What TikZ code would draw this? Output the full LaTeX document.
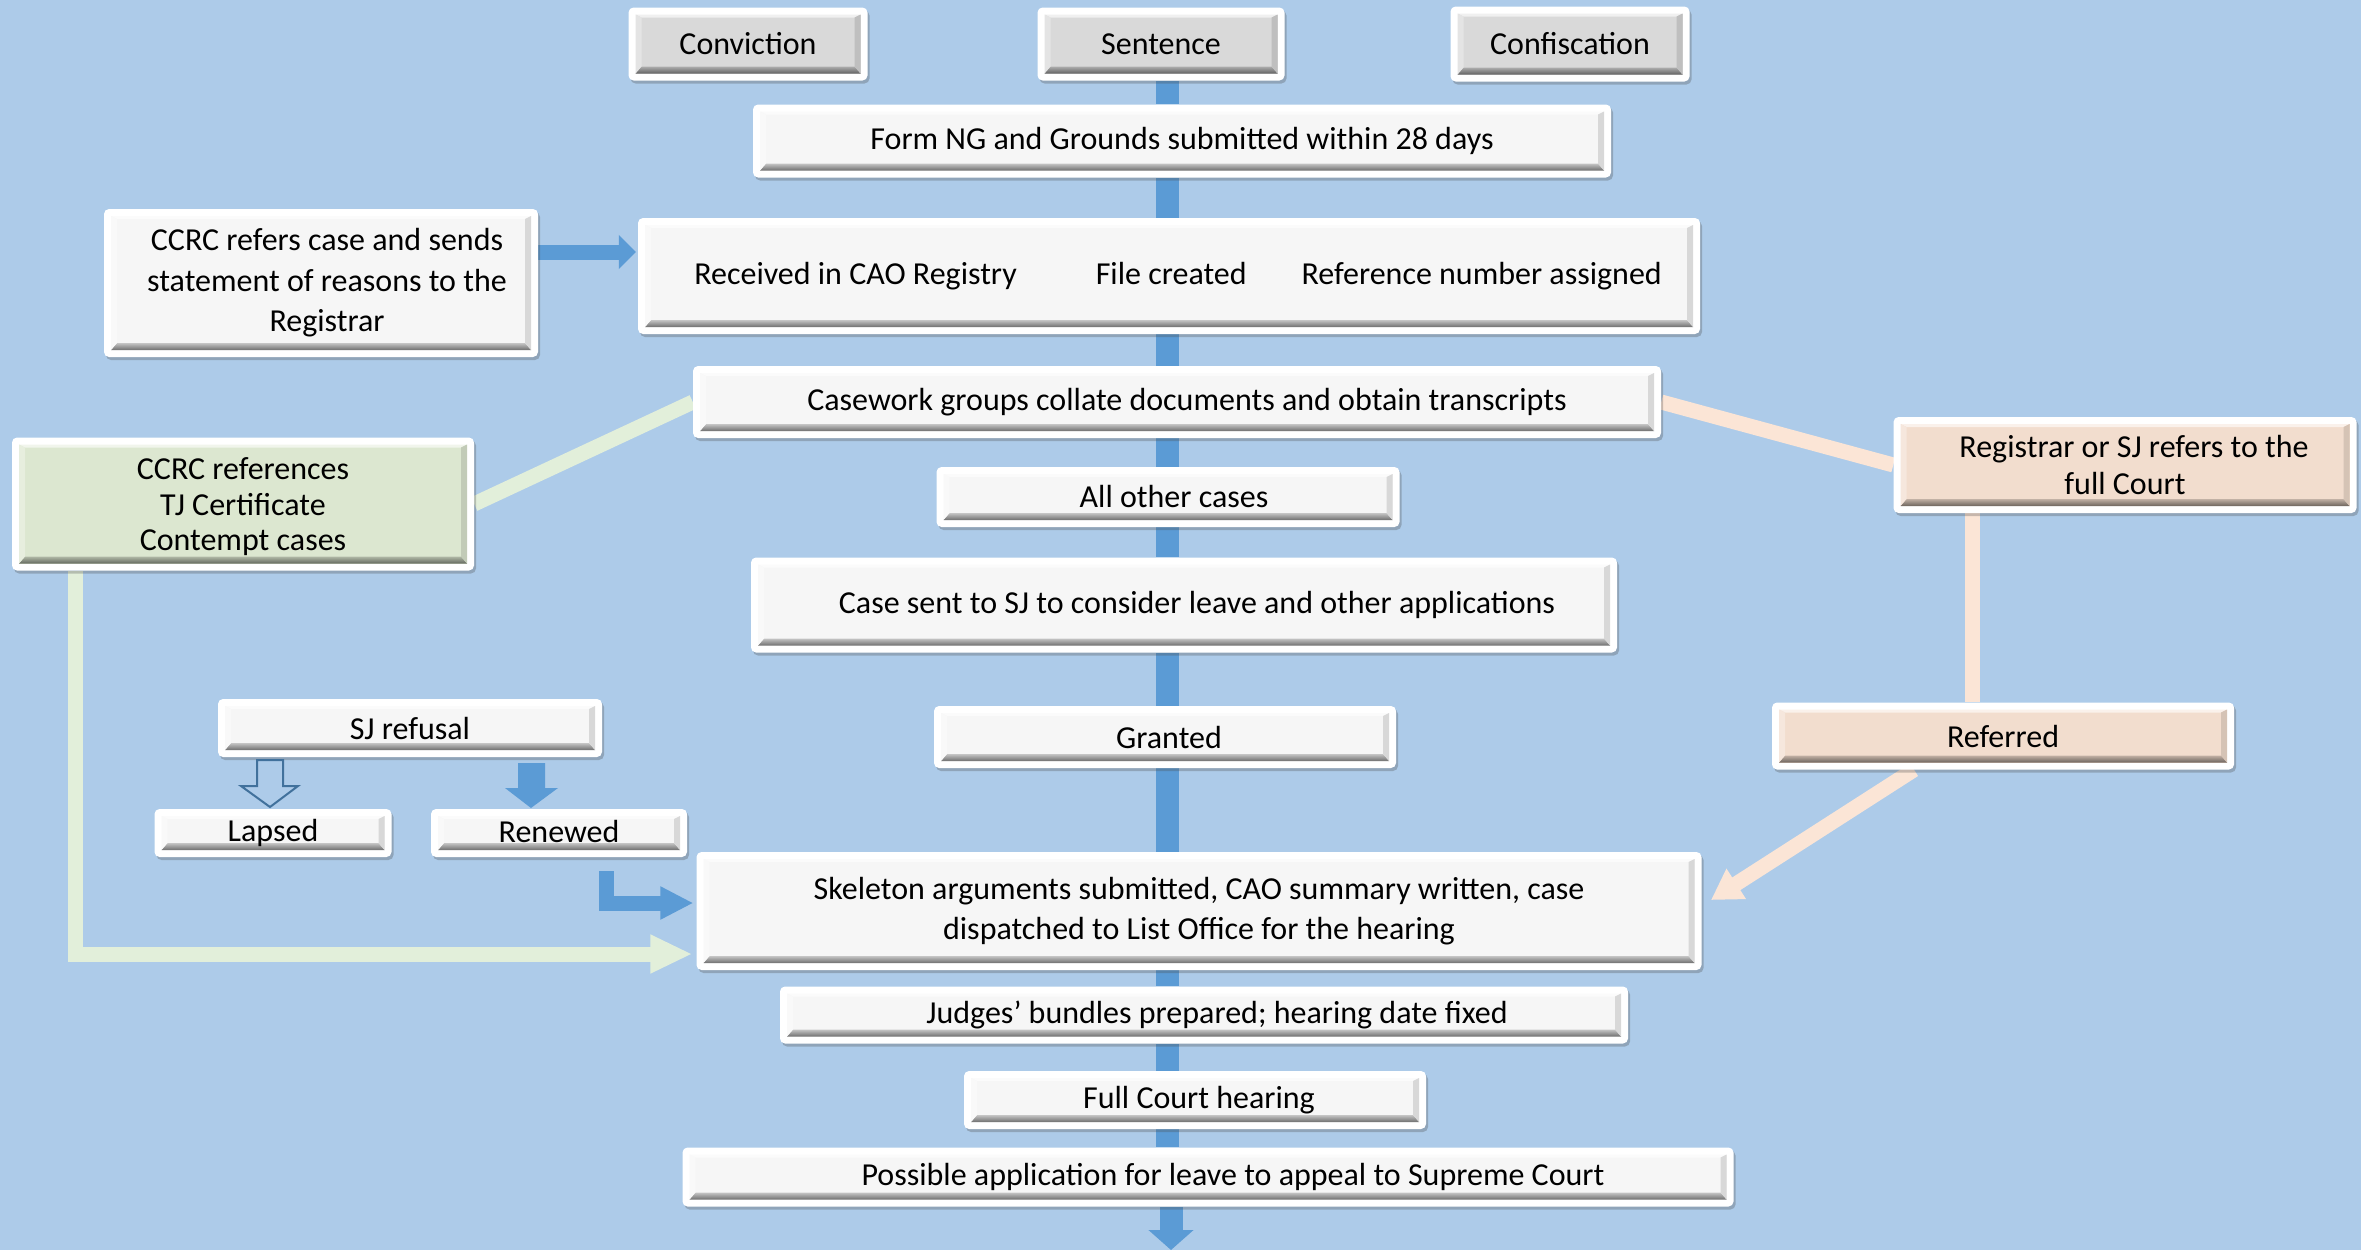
\documentclass[tikz,border=0pt]{standalone}
\usepackage{fontspec}
\setmainfont{Carlito}
\usetikzlibrary{arrows.meta,calc,shadows}
\definecolor{bgblue}{RGB}{173,203,233}
\definecolor{spineblue}{RGB}{91,155,213}
\definecolor{outblue}{RGB}{65,113,156}
\definecolor{lgreen}{RGB}{226,239,218}
\definecolor{lpeach}{RGB}{251,229,214}
\definecolor{boxwhite}{RGB}{246,246,246}
\definecolor{boxgray}{RGB}{217,217,217}
\definecolor{boxgreen}{RGB}{220,231,208}
\definecolor{boxpeach}{RGB}{242,221,206}
\pgfdeclarelayer{bg}\pgfdeclarelayer{conn}\pgfsetlayers{bg,conn,main}
\tikzset{
  bx/.style={fill=white, rounded corners=5pt, inner sep=0pt, align=center,
    font=\fontsize{32}{40.6}\selectfont,
    drop shadow={shadow xshift=2pt, shadow yshift=-3pt, opacity=.3, fill=black!70},
    path picture={
      \coordinate (pA) at ([shift={(7pt,7pt)}]path picture bounding box.south west);
      \coordinate (pB) at ([shift={(-7pt,-7pt)}]path picture bounding box.north east);
      \coordinate (pa) at ([shift={(6pt,7pt)}]pA);
      \coordinate (pb) at ([shift={(-6pt,-3pt)}]pB);
      \fill[#1, sharp corners] (pA) rectangle (pB);
      \shade[sharp corners, top color=#1!80!black, bottom color=#1!45!black] (pA) -- (pA -| pB) -- (pa -| pb) -- (pa) -- cycle;
      \fill[sharp corners, #1!40!white] (pA |- pB) -- (pB) -- (pb) -- (pa |- pb) -- cycle;
      \fill[sharp corners, #1!70!white] (pA) -- (pa) -- (pa |- pb) -- (pA |- pB) -- cycle;
      \fill[sharp corners, #1!88!black] (pA -| pB) -- (pB) -- (pb) -- (pa -| pb) -- cycle;
    }},
  bx/.default=boxwhite,
  spine/.style={draw=spineblue, line width=23pt},
  bconn/.style={draw=spineblue, line width=15pt},
  gconn/.style={draw=lgreen, line width=15pt},
  pconn/.style={draw=lpeach, line width=15pt},
}
\begin{document}
\begin{tikzpicture}[x=1pt,y=-1pt]
\useasboundingbox (0,0) rectangle (2361,1250);
\begin{pgfonlayer}{bg}
\fill[bgblue] (0,0) rectangle (2361,1250);
\end{pgfonlayer}

% top row
\node[bx=boxgray, minimum width=239pt, minimum height=73pt] (conv) at (748,44) {Conviction};
\node[bx=boxgray, minimum width=247pt, minimum height=73pt] (sent) at (1161,44) {Sentence};
\node[bx=boxgray, minimum width=239pt, minimum height=75pt] (conf) at (1570,44) {Confiscation};
% main column
\node[bx, minimum width=858pt, minimum height=73pt] (form) at (1182,141) {Form NG and Grounds submitted within 28 days};
\node[bx, minimum width=1062pt, minimum height=116pt] (recv) at (1169,276) {\hspace*{18pt}\raisebox{3pt}{Received in CAO Registry\hspace{79pt}File created\hspace{55pt}Reference number assigned}};
\node[bx, minimum width=434pt, minimum height=148pt] (ccrc) at (321,283) {\hspace*{12pt}CCRC refers case and sends\\\hspace*{12pt}statement of reasons to the\\\hspace*{12pt}Registrar};
\node[bx, minimum width=968pt, minimum height=72pt] (case) at (1177,402) {\hspace*{20pt}Casework groups collate documents and obtain transcripts};
\node[bx=boxgreen, minimum width=462pt, minimum height=133pt, font=\fontsize{32}{35.5}\selectfont] (grn) at (243,504) {\rule{0pt}{28pt}CCRC references\\TJ Certificate\\Contempt cases};
\node[bx=boxpeach, minimum width=463pt, minimum height=96pt, font=\fontsize{32}{37.6}\selectfont] (reg) at (2125,465) {\hspace*{18pt}Registrar or SJ refers to the\\full Court};
\node[bx, minimum width=463pt, minimum height=60pt] (allc) at (1168,497) {\hspace*{12pt}\raisebox{-2pt}{All other cases}};
\node[bx, minimum width=866pt, minimum height=95pt] (sjc) at (1184,605) {\hspace*{26pt}Case sent to SJ to consider leave and other applications};
\node[bx, minimum width=384pt, minimum height=58pt] (refu) at (410,728) {SJ refusal};
\node[bx, minimum width=462pt, minimum height=62pt] (gran) at (1165,737) {\hspace*{8pt}Granted};
\node[bx=boxpeach, minimum width=462pt, minimum height=67pt] (refd) at (2003,736) {Referred};
\node[bx, minimum width=237pt, minimum height=48pt] (laps) at (273,833) {\raisebox{2pt}{Lapsed}};
\node[bx, minimum width=256pt, minimum height=48pt] (renw) at (559,833) {\raisebox{3pt}{Renewed}};
\node[bx, minimum width=1005pt, minimum height=118pt] (skel) at (1199,911) {Skeleton arguments submitted, CAO summary written, case\\dispatched to List Office for the hearing};
\node[bx, minimum width=848pt, minimum height=57pt] (judg) at (1204,1015) {\hspace*{26pt}Judges’ bundles prepared; hearing date fixed};
\node[bx, minimum width=462pt, minimum height=58pt] (full) at (1195,1100) {\hspace*{8pt}Full Court hearing};
\node[bx, minimum width=1051pt, minimum height=59pt] (poss) at (1208,1177) {\hspace*{50pt}Possible application for leave to appeal to Supreme Court};

% helper coordinates
\coordinate (spx) at (1167,0);
\coordinate (spend) at (1171,1250);
\coordinate (gcol) at (75,0);
\coordinate (pcol) at (1972,0);
\coordinate (rcol) at (1914,0);
\coordinate (rtip) at (1711,900);
\coordinate (rstart) at (606,871);

\begin{pgfonlayer}{conn}
% spine
\foreach \a/\b in {sent/form, form/recv, recv/case, case/allc, allc/sjc, sjc/gran, gran/skel, skel/judg, judg/full, full/poss}
  \draw[spine] (\a.south -| spx) -- (\b.north -| spx);
\draw[spine, -{Triangle[length=20pt, width=44pt]}] (poss.south -| spend) -- (spend);
% CCRC -> received
\draw[bconn, -{Triangle[length=17pt, width=33pt]}] ($(ccrc.east)+(0,-31)$) -- ($(recv.west)+(-2,-24)$);
% green
\draw[gconn] (case.west) -- (grn.east);
\draw[gconn, -{Triangle[length=42pt, width=36pt]}] (grn.south -| gcol) |- ($(skel.west)+(-4,43)$);
% peach
\draw[pconn] (case.east) -- (reg.west);
\draw[pconn] (reg.south -| pcol) -- (refd.north -| pcol);
\draw[pconn, -{Triangle[length=30pt, width=34pt]}] (refd.south -| rcol) -- (rtip);
% renewed elbow
\draw[bconn, -{Triangle[length=33pt, width=31pt]}] (rstart) |- ($(skel.west)+(-3,-8)$);
\end{pgfonlayer}

% SJ refusal block arrows
\draw[outblue, line width=2pt, line join=miter] (257,760) -- (283,760) -- (283,786) -- (298,786) -- (270,807) -- (241,786) -- (257,786) -- cycle;
\fill[spineblue] (518,763) -- (545,763) -- (545,788) -- (558,788) -- (531,808) -- (505,788) -- (518,788) -- cycle;
\end{tikzpicture}
\end{document}
